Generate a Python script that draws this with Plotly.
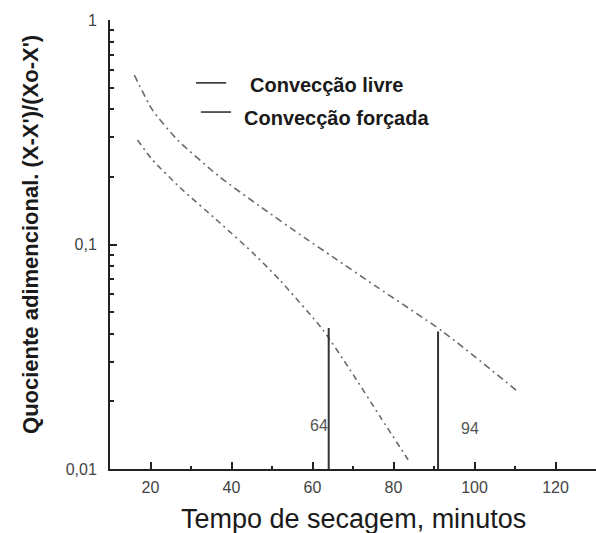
import math
import plotly.graph_objects as go

# ---- data ----
livre_x = [16.0, 20.5, 26.7, 37.1, 47.0, 58.1, 65.0, 75.9, 92.3, 110.6]
livre_y = [0.569, 0.397, 0.292, 0.200, 0.148, 0.107, 0.088, 0.0647, 0.0408, 0.0222]

forcada_x = [16.8, 20.5, 27.2, 37.1, 45.2, 51.9, 62.6, 69.3, 76.7, 83.6]
forcada_y = [0.292, 0.238, 0.180, 0.125, 0.092, 0.0695, 0.0416, 0.0276, 0.0171, 0.011]

vline_x = [64, 91]
vline_top = [0.0425, 0.041]
vline_labels = ["64", "94"]
vline_label_y = [0.0157, 0.0152]

x_ticks = [20, 40, 60, 80, 100, 120]
x_minor = [30, 50, 70, 90, 110]
y_ticks = [0.01, 0.1, 1]
y_ticktext = ["0,01", "0,1", "1"]
y_minor = [m * d for d in (0.01, 0.1) for m in range(2, 10)]

legend_names = ["Convecção livre", "Convecção forçada"]

AX = "#222222"
CURVE = "#6a6a6a"

fig = go.Figure()
fig.add_trace(go.Scatter(x=livre_x, y=livre_y, mode="lines", name=legend_names[0],
                         line=dict(color=CURVE, width=1.6, dash="7px,4px,2px,4px",
                                   shape="spline", smoothing=0.6),
                         showlegend=False))
fig.add_trace(go.Scatter(x=forcada_x, y=forcada_y, mode="lines", name=legend_names[1],
                         line=dict(color=CURVE, width=1.6, dash="6px,4px,2px,4px",
                                   shape="spline", smoothing=0.6),
                         showlegend=False))
for vx, vt in zip(vline_x, vline_top):
    fig.add_trace(go.Scatter(x=[vx, vx], y=[y_ticks[0], vt], mode="lines",
                             line=dict(color="#333333", width=2), showlegend=False))

# labels of the vertical lines (annotation y on a log axis is given in log10 units)
for vx, vy, lab, xs, xa in zip(vline_x, vline_label_y, vline_labels, [1, 21], ["right", "left"]):
    fig.add_annotation(x=vx, y=math.log10(vy), yref="y", xref="x", text=lab, showarrow=False,
                       xanchor=xa, xshift=xs, yanchor="middle",
                       font=dict(family="Liberation Sans, Arial, sans-serif", size=16, color="#555555"))

# custom legend
legend_rows = [
    dict(x0=0.177, x1=0.239, y=0.860, tx=0.284, ty=0.855),
    dict(x0=0.187, x1=0.249, y=0.795, tx=0.272, ty=0.782),
]
for name, r in zip(legend_names, legend_rows):
    fig.add_shape(type="line", xref="paper", yref="paper", x0=r["x0"], x1=r["x1"],
                  y0=r["y"], y1=r["y"], line=dict(color="#333333", width=1.6))
    fig.add_annotation(x=r["tx"], y=r["ty"], xref="paper", yref="paper", text=name,
                       showarrow=False, xanchor="left", yanchor="middle",
                       font=dict(family="Liberation Sans, Arial, sans-serif", size=20,
                                 color="#1a1a1a", weight="bold"))

# axis titles
fig.add_annotation(x=-0.165, y=0.523, xref="paper", yref="paper",
                   text="Quociente adimencional. (X-X')/(Xo-X')", textangle=-90,
                   showarrow=False, xanchor="center", yanchor="middle",
                   font=dict(family="Liberation Sans, Arial, sans-serif", size=22,
                             color="#1a1a1a", weight="bold"))
fig.add_annotation(x=0.501, y=-0.111, xref="paper", yref="paper",
                   text="Tempo de secagem, minutos", showarrow=False,
                   xanchor="center", yanchor="middle",
                   font=dict(family="Liberation Sans, Arial, sans-serif", size=27, color="#1a1a1a"))

tickfont = dict(family="Liberation Sans, Arial, sans-serif", size=16, color="#444444")
fig.update_xaxes(range=[10, 130], showgrid=False, zeroline=False,
                 showline=True, linecolor=AX, linewidth=2,
                 tickvals=x_ticks, ticktext=[str(v) for v in x_ticks],
                 ticks="inside", ticklen=7, tickwidth=1.5, tickcolor=AX,
                 tickfont=tickfont, ticklabelstandoff=3,
                 minor=dict(tickvals=x_minor, ticks="inside", ticklen=3, tickwidth=1.5, tickcolor=AX))
fig.update_yaxes(type="log", range=[-2, 0], showgrid=False, zeroline=False,
                 showline=True, linecolor=AX, linewidth=2,
                 tickvals=y_ticks, ticktext=y_ticktext,
                 ticks="inside", ticklen=7, tickwidth=1.5, tickcolor=AX,
                 tickfont=tickfont, ticklabelstandoff=8,
                 minor=dict(tickvals=y_minor, ticks="inside", ticklen=4, tickwidth=1.5, tickcolor=AX))

fig.update_layout(width=596, height=533, margin=dict(l=110, r=0, t=20, b=64),
                  plot_bgcolor="white", paper_bgcolor="white", showlegend=False)

fig.write_html("out.html")
